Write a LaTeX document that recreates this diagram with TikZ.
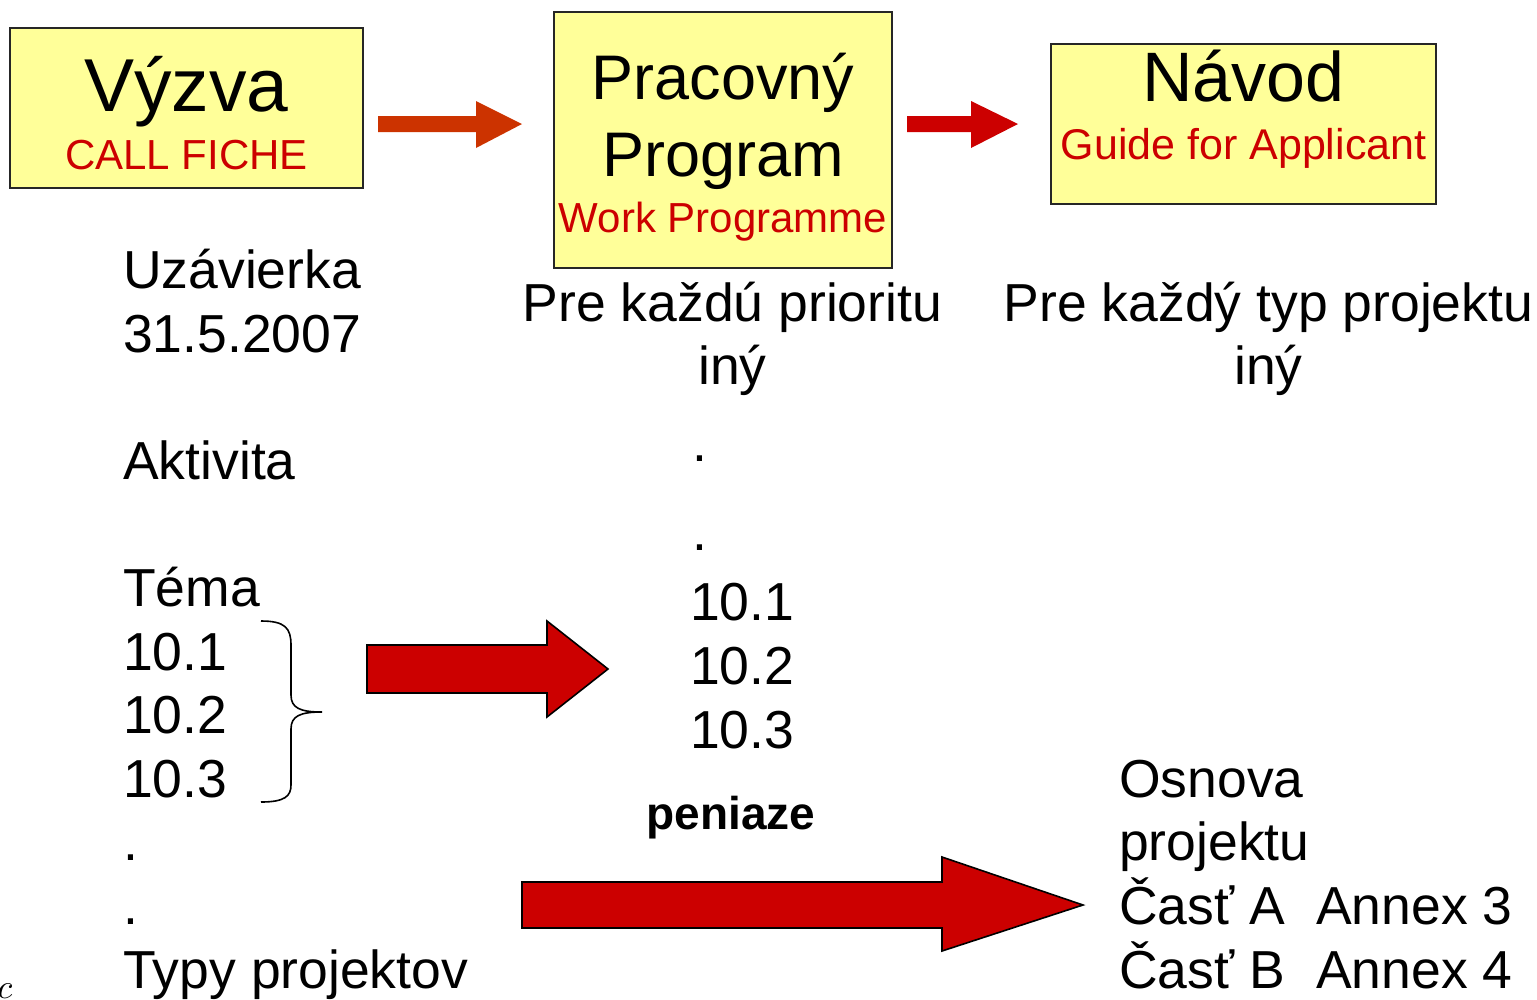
\documentclass[tikz,border=0pt]{standalone}
\usepackage{fontspec}
\setmainfont{Liberation Sans}
\usetikzlibrary{positioning}
\definecolor{noteyellow}{HTML}{FFFF99}
\definecolor{engred}{HTML}{CC0000}
\definecolor{rust}{HTML}{CC3300}
\newcommand\fsz[2]{\fontsize{#1}{#2}\selectfont}

\begin{document}
\begin{tikzpicture}
  [x=1pt,y=-1pt,
  every node/.style={inner sep=0pt,anchor=base},
  doc/.style={draw=black!85,line width=1.5pt,fill=noteyellow,anchor=center},
  txt/.style={font=\fsz{53.5}{63.6},align=left},
  eng/.style={text=engred,font=\fsz{42}{42}},
  blk/.style={fill=engred,draw=black,line width=1.6pt}]
  \useasboundingbox (0,0) rectangle (1537,999);

  % the three documents
  \node[doc,minimum width=353,minimum height=160] (call) at (186.5,108) {};
  \node[font=\fsz{75}{75}] at ([yshift=-84]call.north) {Výzva};
  \node[eng] at ([yshift=19]call.south) {CALL FICHE};

  \node[doc,minimum width=338,minimum height=256] (wp) at (723,140) {};
  \node[font=\fsz{63}{77},align=center] at ([yshift=-165]wp.north) {Pracovný\\Program};
  \node[eng,font=\fsz{42}{42}] at ([yshift=36]wp.south) {Work Programme};

  \node[doc,minimum width=385,minimum height=160] (guide) at (1243.5,124) {};
  \node[font=\fsz{70}{70}] at ([yshift=-58]guide.north) {Návod};
  \node[eng,font=\fsz{43}{43}] at ([yshift=45]guide.south) {Guide for Applicant};

  \fill[rust] (378,116) -| (476,101) -- (522,124) -- (476,148) |- (378,132) -- cycle;
  \fill[engred] (907,116) -| (971,101) -- (1018,124) -- (971,148) |- (907,132) -- cycle;

  % columns (base = last line)
  \node[txt,anchor=base west] (left) at (123,988)
    {Uzávierka\\31.5.2007\\[63.6pt]Aktivita\\[63.6pt]Téma\\10.1\\10.2\\10.3\\.\\.\\Typy projektov};
  \node[txt,align=center] (prio) at (732.5,384.6) {Pre každú prioritu\\iný};
  \node[txt,align=center] (typ) at (1268.5,384.6) {Pre každý typ projektu\\iný};
  \node[txt,anchor=base west] (dot1) at (692,461) {.};
  \node[txt,anchor=base west] (dot2) at (692,550) {.};
  \node[txt,anchor=base west] (nums) at (690,748) {10.1\\10.2\\10.3};
  \node[font=\bfseries\fsz{46}{46}] (money) at (731,829) {peniaze};
  \node[txt,anchor=base west] (outline) at (1119,988)
    {Osnova\\projektu\\\makebox[197pt][l]{Časť A}Annex 3\\\makebox[197pt][l]{Časť B}Annex 4};

  \draw[line width=1.6pt] (261,621) .. controls (285,621) and (291,628) .. (291,645) -- (291,695)
    .. controls (291,708) and (300,712) .. (322,712) .. controls (300,712) and (291,716) .. (291,729)
    -- (291,785) .. controls (291,796) and (285,802) .. (261,802);
  \draw[blk] (367,645) -| (547,621) -- (608,669) -- (547,717) |- (367,693) -- cycle;
  \draw[blk] (522,882) -| (942,857) -- (1083,905) -- (942,951) |- (522,928) -- cycle;

  \node[anchor=base west,scale=3.4,transform shape] (cmark) at (-3,998) {$c$};
\end{tikzpicture}
\end{document}
